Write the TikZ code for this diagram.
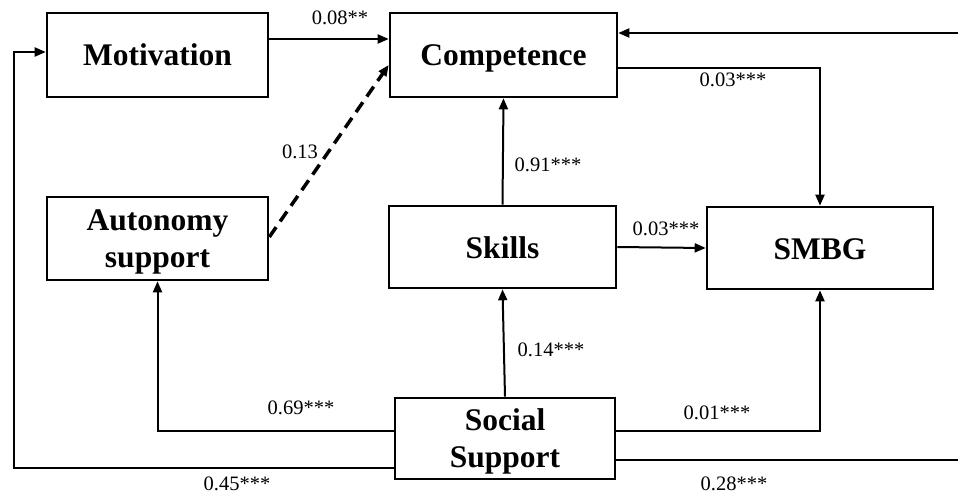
\documentclass[tikz,border=0pt]{standalone}
\usepackage{fontspec}
\setmainfont{Liberation Serif}
\usetikzlibrary{arrows.meta}
\begin{document}
\begin{tikzpicture}[x=1pt,y=-1pt,
  box/.style={draw, line width=2.6pt, align=center, inner sep=0pt,
    font=\fontsize{31.5}{36.5}\selectfont\bfseries},
  one/.style={text height=24pt, text depth=2pt},
  two/.style={text height=59pt, text depth=1.5pt},
  arr/.style={line width=2pt, -{Triangle[length=11pt,width=9pt]}},
  lbl/.style={font=\fontsize{20.5}{22}\selectfont, inner sep=0pt}]
\useasboundingbox (0,0) rectangle (958,495);
\node[box, one, minimum width=221pt, minimum height=84pt] (mot) at (157.5,55) {Motivation};
\node[box, one, minimum width=227pt, minimum height=84pt] (comp) at (503.5,55) {Competence};
\node[box, two, minimum width=221pt, minimum height=83pt] (aut) at (157.5,238.5) {Autonomy\\support};
\node[box, one, minimum width=227pt, minimum height=82pt] (sk) at (502.5,247) {Skills};
\node[box, one, minimum width=226pt, minimum height=82pt] (smbg) at (820,248) {SMBG};
\node[box, two, minimum width=220pt, minimum height=81pt] (ss) at (505,438.5) {Social\\Support};
\coordinate (tr) at (958,33);
\coordinate (br) at (958,460);
\coordinate (lc) at (14,52);
% connectors
\draw[arr] ([yshift=16pt]mot.east) -- ([yshift=16pt]comp.west);
\draw[arr] (tr) -- (tr -| comp.east);
\draw[arr] ([yshift=-13pt]comp.east) -| (smbg.north);
\draw[arr, dashed, line width=3.5pt, dash pattern=on 12pt off 7pt] ([yshift=1.5pt]aut.east) -- ([yshift=-10pt]comp.west);
\draw[arr] (sk.north) -- (comp.south);
\draw[arr] (sk.east) -- (smbg.west);
\draw[arr] (ss.north) -- (sk.south);
\draw[arr] ([yshift=7.5pt]ss.east) -| (smbg.south);
\draw[arr] ([yshift=7.5pt]ss.west) -| (aut.south);
\draw[arr] ([yshift=-29.5pt]ss.west) -| (lc) -- ([yshift=3pt]mot.west);
\draw[line width=2pt] ([yshift=-21.5pt]ss.east) -- (br);
% labels
\node[lbl] (l1) at (340,18) {0.08**};
\node[lbl] (l2) at (733,80) {0.03***};
\node[lbl] (l3) at (300,152) {0.13};
\node[lbl] (l4) at (548,165) {0.91***};
\node[lbl] (l5) at (666,229) {0.03***};
\node[lbl] (l6) at (551,350) {0.14***};
\node[lbl] (l7) at (301,408) {0.69***};
\node[lbl] (l8) at (717,413) {0.01***};
\node[lbl] (l9) at (237,484) {0.45***};
\node[lbl] (l10) at (734,484) {0.28***};
\end{tikzpicture}
\end{document}
